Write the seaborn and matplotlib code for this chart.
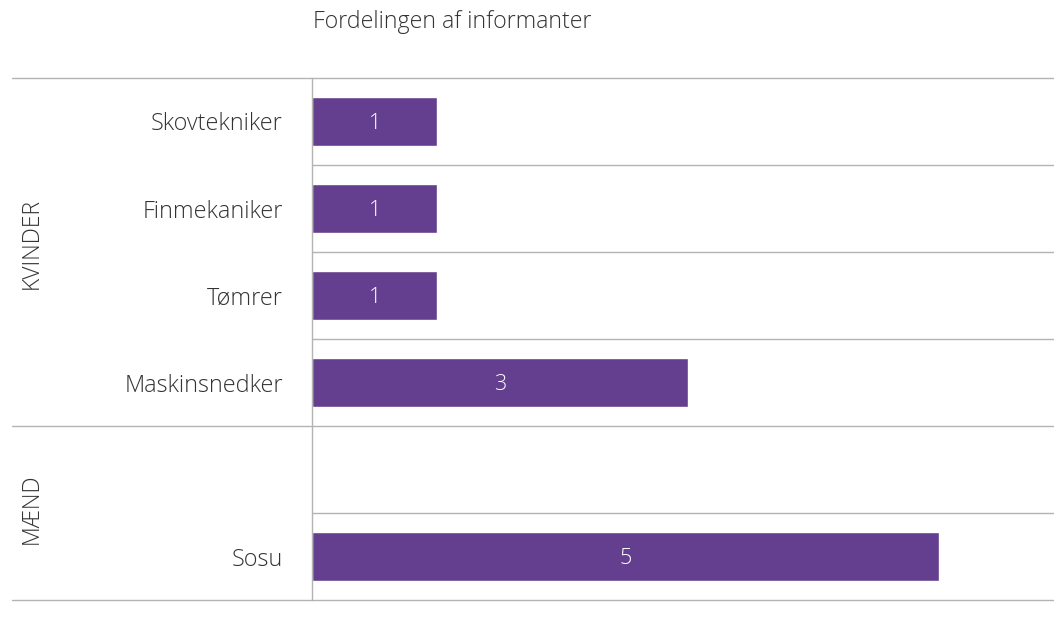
import numpy as np
import pandas as pd
import matplotlib.pyplot as plt
import seaborn as sns

# data
categories = ['Skovtekniker', 'Finmekaniker', 'Tømrer', 'Maskinsnedker', ' ', 'Sosu']
counts = [1, 1, 1, 3, np.nan, 5]
groups = ['KVINDER', 'MÆND']
group_rows = [(0, 3), (4, 5)]
group_label_pos = [1.4, 4.45]

df = pd.DataFrame({'erhverv': categories, 'antal': counts})

sns.set_theme(style='white')
plt.rcParams['font.family'] = ['Open Sans', 'DejaVu Sans']
plt.rcParams['font.weight'] = 'light'

bar_color = '#643E8F'
line_color = '#b3b3b3'
text_color = '#333333'

fig = plt.figure(figsize=(10.54, 6.43), dpi=100)
ax = fig.add_axes([312 / 1054, 1 - 600 / 643, 742 / 1054, 522 / 643])

sns.barplot(data=df, x='antal', y='erhverv', order=categories, color=bar_color,
            saturation=1, width=0.56, orient='h', ax=ax)

ax.set_xlim(0, 5.92)
ax.set_ylim(len(categories) - 0.5, -0.5)

# label the bars
for i, v in enumerate(counts):
    if not np.isnan(v):
        ax.text(v / 2, i + 0.02, f'{int(v)}', ha='center', va='center', color='white',
                fontsize=15.5, fontweight='light')

# row separators
group_edges = [-0.5] + [end + 0.5 for _, end in group_rows]
ext = (12 - 312) / 742
for k in range(len(categories) + 1):
    y = k - 0.5
    if y in group_edges:
        ax.axhline(y, xmin=ext, xmax=1, color=line_color, lw=1, clip_on=False)
    else:
        ax.axhline(y, color=line_color, lw=1)

# group labels
for name, ypos in zip(groups, group_label_pos):
    ax.text(ext + 0.027, ypos, name, transform=ax.get_yaxis_transform(),
            rotation=90, ha='center', va='center', fontsize=16.5, color=text_color)

sns.despine(ax=ax, top=True, right=True, bottom=True, left=False)
ax.spines['left'].set_color(line_color)
ax.spines['left'].set_linewidth(1)
ax.set_xticks([])
ax.set_xlabel('')
ax.set_ylabel('')
ax.tick_params(axis='y', length=0, pad=21, labelsize=16.8, labelcolor=text_color)

fig.text(313 / 1054, 1 - 22 / 643, 'Fordelingen af informanter', ha='left', va='center',
         fontsize=16.7, color=text_color)

plt.savefig('out.png', dpi=100)
